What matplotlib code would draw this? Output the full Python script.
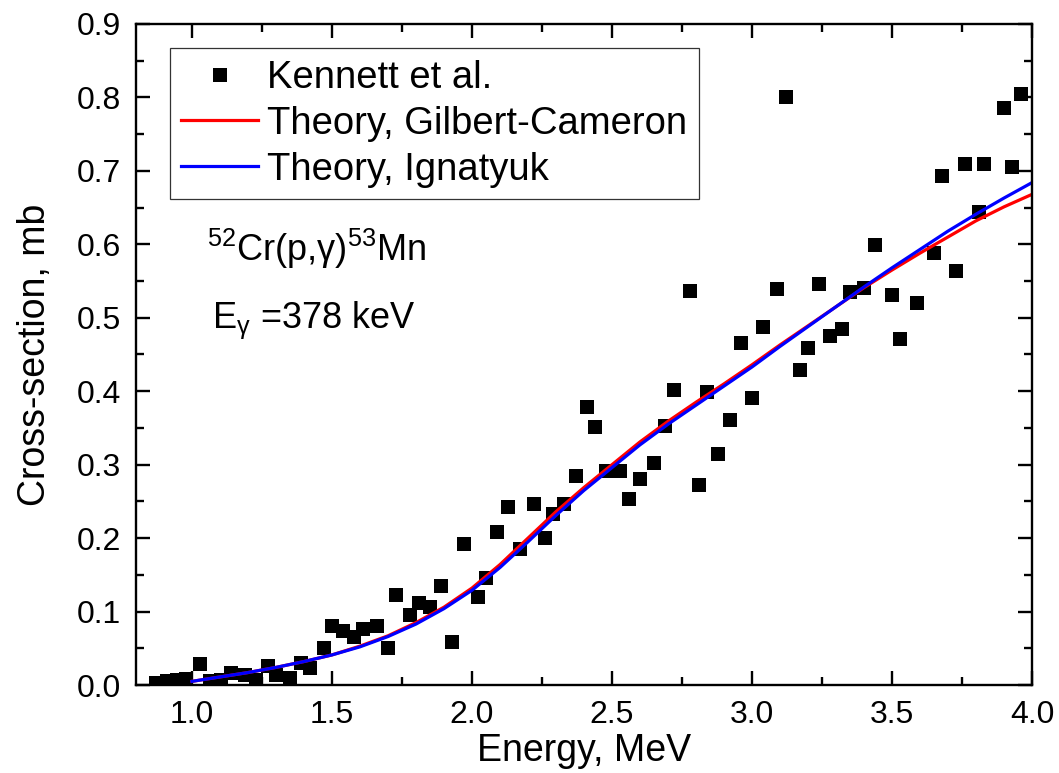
import numpy as np
import matplotlib
matplotlib.use("Agg")
import matplotlib.pyplot as plt
from matplotlib.ticker import MultipleLocator

plt.rcParams['font.family'] = ['Liberation Sans', 'DejaVu Sans']
plt.rcParams['mathtext.fontset'] = 'custom'
plt.rcParams['mathtext.rm'] = 'Liberation Sans'
plt.rcParams['mathtext.default'] = 'regular'

# Kennett et al. measured points
kennett_e = [0.87, 0.91, 0.945, 0.98, 1.03, 1.065, 1.105, 1.14, 1.19, 1.23,
             1.27, 1.30, 1.35, 1.39, 1.42, 1.47, 1.50, 1.54, 1.58, 1.61,
             1.66, 1.70, 1.73, 1.78, 1.81, 1.85, 1.89, 1.93, 1.97, 2.02,
             2.05, 2.09, 2.13, 2.17, 2.22, 2.26, 2.29, 2.33, 2.37, 2.41,
             2.44, 2.48, 2.53, 2.56, 2.60, 2.65, 2.69, 2.72, 2.78, 2.81,
             2.84, 2.88, 2.92, 2.96, 3.00, 3.04, 3.09, 3.12, 3.17, 3.20,
             3.24, 3.28, 3.32, 3.35, 3.40, 3.44, 3.50, 3.53, 3.59, 3.65,
             3.68, 3.73, 3.76, 3.81, 3.83, 3.90, 3.93, 3.96]
kennett_xs = [0.003, 0.005, 0.007, 0.008, 0.029, 0.006, 0.007, 0.016, 0.014, 0.007,
              0.026, 0.014, 0.010, 0.030, 0.023, 0.050, 0.081, 0.073, 0.066, 0.076,
              0.080, 0.051, 0.123, 0.095, 0.112, 0.106, 0.135, 0.059, 0.192, 0.120,
              0.146, 0.208, 0.243, 0.185, 0.246, 0.200, 0.233, 0.246, 0.284, 0.379,
              0.351, 0.292, 0.292, 0.253, 0.280, 0.302, 0.352, 0.402, 0.536, 0.272,
              0.399, 0.314, 0.361, 0.466, 0.391, 0.488, 0.539, 0.800, 0.429, 0.459,
              0.546, 0.475, 0.485, 0.535, 0.541, 0.599, 0.531, 0.471, 0.520, 0.588,
              0.693, 0.563, 0.709, 0.644, 0.710, 0.786, 0.705, 0.804]

# theoretical curves
theory_e = [1.0, 1.1, 1.2, 1.3, 1.4, 1.5, 1.6, 1.7, 1.8, 1.9, 2.0,
            2.1, 2.2, 2.3, 2.4, 2.5, 2.6, 2.7, 2.8, 2.9, 3.0,
            3.1, 3.2, 3.3, 3.4, 3.5, 3.6, 3.7, 3.8, 3.9, 4.0]
gilbert_cameron = [0.005, 0.011, 0.017, 0.024, 0.032, 0.041, 0.053, 0.067, 0.085, 0.106, 0.132,
                   0.164, 0.200, 0.236, 0.269, 0.300, 0.331, 0.359, 0.385, 0.410, 0.436,
                   0.463, 0.489, 0.515, 0.541, 0.565, 0.588, 0.610, 0.632, 0.651, 0.668]
ignatyuk = [0.005, 0.011, 0.017, 0.024, 0.032, 0.041, 0.052, 0.066, 0.083, 0.104, 0.129,
            0.160, 0.195, 0.231, 0.265, 0.296, 0.327, 0.355, 0.381, 0.407, 0.433,
            0.461, 0.488, 0.515, 0.542, 0.568, 0.593, 0.618, 0.641, 0.663, 0.684]

fig = plt.figure(figsize=(10.59, 7.73), dpi=100)
ax = fig.add_axes([0.1284, 0.1138, 0.8461, 0.8552])

ax.plot(kennett_e, kennett_xs, 's', color='black', ms=9.5, mew=0,
        label='Kennett et al.')
ax.plot(theory_e, gilbert_cameron, color='#ff0000', lw=2.3,
        label='Theory, Gilbert-Cameron')
ax.plot(theory_e, ignatyuk, color='#0000ff', lw=2.3,
        label='Theory, Ignatyuk')

ax.set_xlim(0.8, 4.0)
ax.set_ylim(0.0, 0.9)
ax.xaxis.set_major_locator(MultipleLocator(0.5))
ax.xaxis.set_minor_locator(MultipleLocator(0.25))
ax.yaxis.set_major_locator(MultipleLocator(0.1))
ax.yaxis.set_minor_locator(MultipleLocator(0.05))
ax.xaxis.set_major_formatter(lambda v, p: '%.1f' % v)
ax.yaxis.set_major_formatter(lambda v, p: '%.1f' % v)

ax.tick_params(which='both', direction='in', top=True, right=True,
               width=1.7, labelsize=23, pad=11)
ax.tick_params(which='major', length=10)
ax.tick_params(which='minor', length=6)
for s in ax.spines.values():
    s.set_linewidth(1.7)

ax.set_xlabel('Energy, MeV', fontsize=27, labelpad=2)
ax.set_ylabel('Cross-section, mb', fontsize=27, labelpad=17)

leg = ax.legend(loc='upper left', bbox_to_anchor=(0.038, 0.963),
                borderaxespad=0, fontsize=27.5, numpoints=1, fancybox=False,
                framealpha=1, edgecolor='#333333', handlelength=2.0,
                handletextpad=0.24, labelspacing=0.26, borderpad=0.3)
leg.get_frame().set_linewidth(0.9)

ax.text(0.0795, 0.641, '$^{52}$Cr(p,γ)$^{53}$Mn', transform=ax.transAxes,
        fontsize=26, va='baseline')
ax.text(0.0848, 0.540, 'E$_{γ}$ =378 keV', transform=ax.transAxes,
        fontsize=26, va='baseline')

fig.savefig('out.png', dpi=100)
